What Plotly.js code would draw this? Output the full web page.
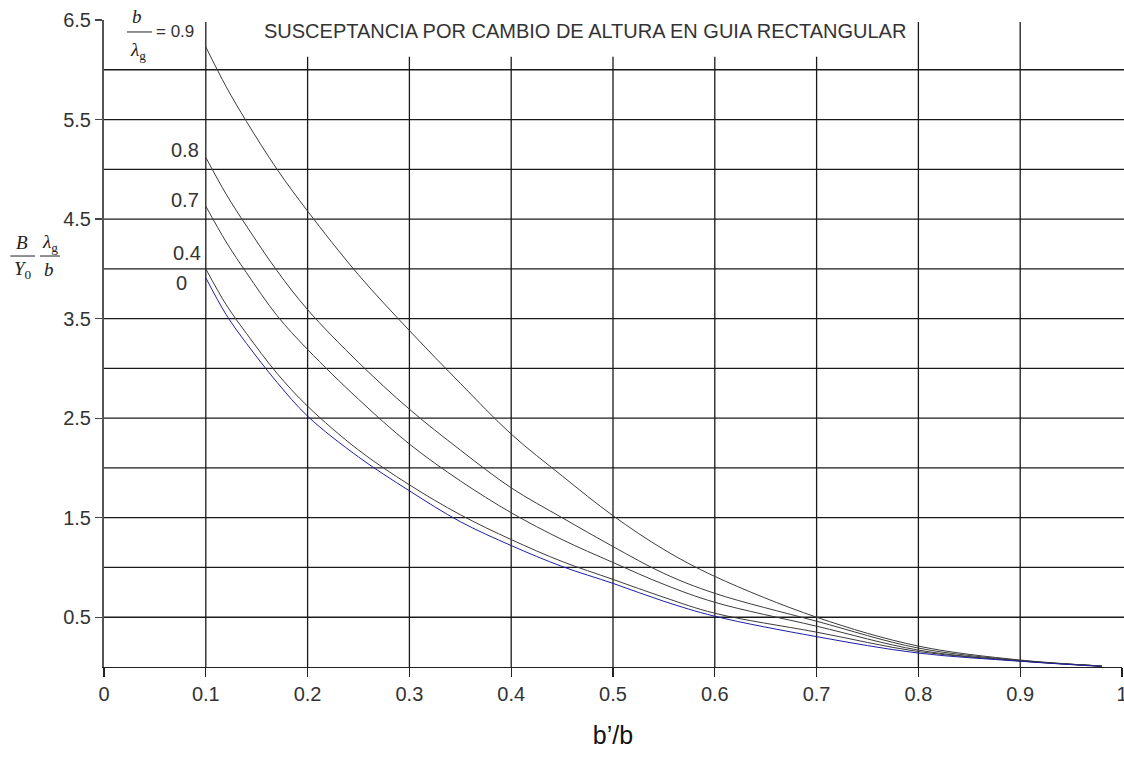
<!DOCTYPE html>
<html>
<head>
<meta charset="utf-8">
<script src="https://cdn.plot.ly/plotly-3.0.1.min.js"></script>
<style>html,body{margin:0;padding:0;background:#fff;} #chart{width:1124px;height:767px;}</style>
</head>
<body>
<div id="chart"></div>
<script>
// b'/b sample points
const xVals = [0.1, 0.12, 0.14, 0.17, 0.2, 0.25, 0.3, 0.35, 0.4, 0.45, 0.5, 0.55, 0.6, 0.7, 0.8, 0.9, 0.98];
// B/Y0 * lambda_g/b for each b/lambda_g
const y09 = [6.23, 5.83, 5.48, 5.00, 4.58, 3.94, 3.38, 2.85, 2.34, 1.92, 1.52, 1.18, 0.91, 0.50, 0.21, 0.07, 0.01];
const y08 = [5.12, 4.75, 4.43, 3.98, 3.59, 3.06, 2.59, 2.18, 1.80, 1.50, 1.21, 0.94, 0.74, 0.46, 0.19, 0.065, 0.01];
const y07 = [4.63, 4.27, 3.96, 3.53, 3.19, 2.69, 2.24, 1.87, 1.55, 1.28, 1.05, 0.83, 0.65, 0.41, 0.17, 0.06, 0.01];
const y04 = [4.00, 3.64, 3.35, 2.95, 2.62, 2.18, 1.83, 1.53, 1.28, 1.06, 0.88, 0.70, 0.54, 0.35, 0.155, 0.062, 0.008];
const y00 = [3.91, 3.54, 3.25, 2.86, 2.52, 2.11, 1.77, 1.46, 1.22, 1.01, 0.84, 0.66, 0.51, 0.305, 0.14, 0.058, 0.005];
const seriesNames = ['0.9', '0.8', '0.7', '0.4', '0'];
const seriesData = [y09, y08, y07, y04, y00];
const seriesColors = ['#3c3c3c', '#3c3c3c', '#3c3c3c', '#3c3c3c', '#1e1ea6'];

const xTickVals = [0, 0.1, 0.2, 0.3, 0.4, 0.5, 0.6, 0.7, 0.8, 0.9, 1];
const xTickText = ['0', '0.1', '0.2', '0.3', '0.4', '0.5', '0.6', '0.7', '0.8', '0.9', '1'];
const yTickVals = [0.5, 1.5, 2.5, 3.5, 4.5, 5.5, 6.5];
const yTickText = ['0.5', '1.5', '2.5', '3.5', '4.5', '5.5', '6.5'];
const xGrid = [0.1, 0.2, 0.3, 0.4, 0.5, 0.6, 0.7, 0.8, 0.9];
const yGrid = [0.5, 1, 1.5, 2, 2.5, 3, 3.5, 4, 4.5, 5, 5.5, 6];

const tickFont = {family: 'Liberation Sans Narrow, Arial Narrow, Liberation Sans, Arial, sans-serif', size: 20, color: '#333'};
const textFont = {family: 'Liberation Sans, Arial, sans-serif', size: 20, color: '#333'};
const mathFont = {family: 'Liberation Serif, Times New Roman, serif', size: 19, color: '#222'};

const traces = seriesData.map((ys, i) => ({
  x: xVals, y: ys, type: 'scatter', mode: 'lines', name: seriesNames[i],
  line: {color: seriesColors[i], width: 1, shape: 'spline', smoothing: 1},
  hoverinfo: 'x+y+name'
}));

const gridColor = '#1a1a1a';
const shapes = [];
xGrid.forEach(v => shapes.push({type: 'line', layer: 'below', xref: 'x', yref: 'y', x0: v, x1: v, y0: 0, y1: 6.48, line: {color: gridColor, width: 1.3}}));
yGrid.forEach(v => shapes.push({type: 'line', layer: 'below', xref: 'paper', yref: 'y', x0: 0, x1: 1.003, y0: v, y1: v, line: {color: gridColor, width: 1.3}}));
// white band behind title
shapes.push({type: 'rect', layer: 'below', xref: 'x', yref: 'y', x0: 0.15, x1: 0.795, y0: 6.13, y1: 6.55, fillcolor: '#fff', line: {width: 0}});
// fraction bars
shapes.push({type: 'line', xref: 'paper', yref: 'paper', x0: 0.0226, x1: 0.0472, y0: 0.9815, y1: 0.9815, line: {color: '#222', width: 1}});
shapes.push({type: 'line', xref: 'paper', yref: 'paper', x0: -0.092, x1: -0.0678, y0: 0.6352, y1: 0.6352, line: {color: '#222', width: 1}});
shapes.push({type: 'line', xref: 'paper', yref: 'paper', x0: -0.0629, x1: -0.0432, y0: 0.6352, y1: 0.6352, line: {color: '#222', width: 1}});

const annotations = [
  {text: 'SUSCEPTANCIA POR CAMBIO DE ALTURA EN GUIA RECTANGULAR', x: 0.4725, y: 6.392, xref: 'x', yref: 'y', showarrow: false, font: textFont, xanchor: 'center', yanchor: 'middle'},
  {text: '0.8', x: 0.0953, y: 5.196, xref: 'x', yref: 'y', showarrow: false, font: tickFont, xanchor: 'right', yanchor: 'middle'},
  {text: '0.7', x: 0.0953, y: 4.693, xref: 'x', yref: 'y', showarrow: false, font: tickFont, xanchor: 'right', yanchor: 'middle'},
  {text: '0.4', x: 0.0972, y: 4.161, xref: 'x', yref: 'y', showarrow: false, font: tickFont, xanchor: 'right', yanchor: 'middle'},
  {text: '0', x: 0.0766, y: 3.859, xref: 'x', yref: 'y', showarrow: false, font: tickFont, xanchor: 'center', yanchor: 'middle'},
  {text: '<i>b</i>', x: 0.0324, y: 1.006, xref: 'paper', yref: 'paper', showarrow: false, font: mathFont, xanchor: 'center', yanchor: 'middle'},
  {text: '<i>λ</i><sub>g</sub>', x: 0.0334, y: 0.952, xref: 'paper', yref: 'paper', showarrow: false, font: mathFont, xanchor: 'center', yanchor: 'middle'},
  {text: '= 0.9', x: 0.0495, y: 0.9815, xref: 'paper', yref: 'paper', showarrow: false, font: {family: 'Liberation Sans, Arial, sans-serif', size: 17, color: '#333'}, xanchor: 'left', yanchor: 'middle'},
  {text: '<i>B</i>', x: -0.0806, y: 0.6555, xref: 'paper', yref: 'paper', showarrow: false, font: mathFont, xanchor: 'center', yanchor: 'middle'},
  {text: '<i>Y</i><sub>0</sub>', x: -0.0796, y: 0.6130, xref: 'paper', yref: 'paper', showarrow: false, font: mathFont, xanchor: 'center', yanchor: 'middle'},
  {text: '<i>λ</i><sub>g</sub>', x: -0.0530, y: 0.6560, xref: 'paper', yref: 'paper', showarrow: false, font: mathFont, xanchor: 'center', yanchor: 'middle'},
  {text: '<i>b</i>', x: -0.0540, y: 0.6140, xref: 'paper', yref: 'paper', showarrow: false, font: mathFont, xanchor: 'center', yanchor: 'middle'}
];

const layout = {
  width: 1124, height: 767,
  margin: {l: 104, r: 2, t: 20, b: 100},
  paper_bgcolor: '#fff', plot_bgcolor: '#fff',
  showlegend: false,
  xaxis: {
    range: [0, 1], tickvals: xTickVals, ticktext: xTickText,
    ticks: 'outside', ticklen: 9, tickcolor: '#222', tickwidth: 1.3,
    showline: true, linecolor: '#222', linewidth: 1.3,
    showgrid: false, zeroline: false, tickfont: tickFont, ticklabeloverflow: 'allow',
    title: {text: 'b’/b', font: {family: 'Liberation Sans, Arial, sans-serif', size: 25, color: '#111'}, standoff: 22}
  },
  yaxis: {
    range: [0, 6.5], tickvals: yTickVals, ticktext: yTickText,
    ticks: 'outside', ticklen: 7, tickcolor: '#444', tickwidth: 1.3,
    showline: true, linecolor: '#555', linewidth: 2,
    showgrid: false, zeroline: false, tickfont: tickFont
  },
  shapes: shapes,
  annotations: annotations
};

Plotly.newPlot('chart', traces, layout, {displayModeBar: false, staticPlot: true});
</script>
</body>
</html>
